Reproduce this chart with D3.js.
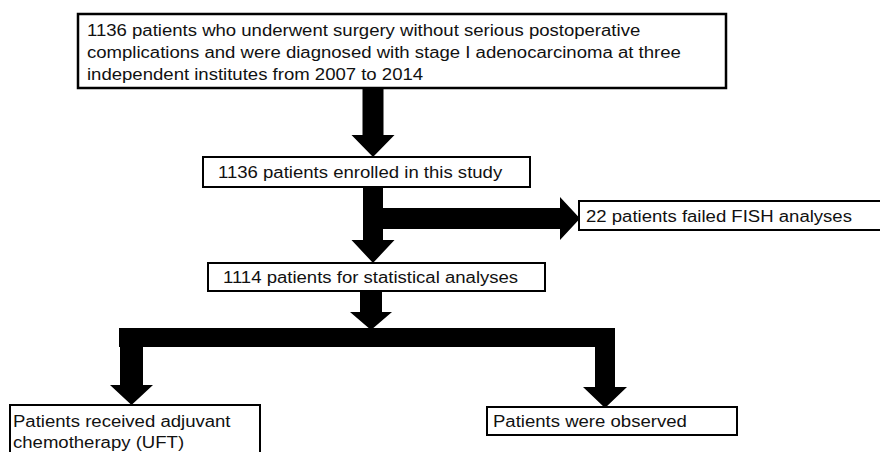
<!DOCTYPE html>
<html>
<head>
<meta charset="utf-8">
<script src="https://cdn.jsdelivr.net/npm/d3@7"></script>
<style>
  html, body { margin: 0; padding: 0; background: #fff; }
  svg { display: block; }
</style>
</head>
<body>
<script>
// flow chart content
const stepIds = ["source", "enrolled", "failed", "analysed", "adjuvant", "observed"];
const stepLines = [
  ["1136 patients who underwent surgery without serious postoperative",
   "complications and were diagnosed with stage I adenocarcinoma at three",
   "independent institutes from 2007 to 2014"],
  ["1136 patients enrolled in this study"],
  ["22 patients failed FISH analyses"],
  ["1114 patients for statistical analyses"],
  ["Patients received adjuvant", "chemotherapy (UFT)"],
  ["Patients were observed"]
];
const patientCounts = [1136, 1136, 22, 1114];
const links = [
  ["source", "enrolled"],
  ["enrolled", "analysed"],
  ["enrolled", "failed"],
  ["analysed", "adjuvant"],
  ["analysed", "observed"]
];

const width = 880, height = 452;

// box geometry (layout only)
const layout = {
  source:   {x: 78,  y: 14,  w: 648, h: 74, tx: 87,  ty: 36,  dy: 22},
  enrolled: {x: 203, y: 157, w: 327, h: 30, tx: 218, ty: 178, dy: 22},
  failed:   {x: 579, y: 201, w: 310, h: 29, tx: 586, ty: 222, dy: 22},
  analysed: {x: 208, y: 263, w: 337, h: 28, tx: 223, ty: 283, dy: 22},
  adjuvant: {x: 10,  y: 405, w: 250, h: 70, tx: 13,  ty: 427, dy: 21},
  observed: {x: 487, y: 407, w: 250, h: 28, tx: 493, ty: 427, dy: 22}
};

const fontSize = 16;
const stretch = 1.16;

const svg = d3.select("body").append("svg")
  .attr("width", width)
  .attr("height", height);

// arrows: shaft half width, head half width, head length
function downArrow(cx, y0, y1, sh, hh, hl) {
  return [[cx - sh, y0], [cx + sh, y0], [cx + sh, y1 - hl], [cx + hh, y1 - hl],
          [cx, y1], [cx - hh, y1 - hl], [cx - sh, y1 - hl]];
}
function rightArrow(cy, x0, x1, sh, hh, hl) {
  return [[x0, cy - sh], [x1 - hl, cy - sh], [x1 - hl, cy - hh], [x1, cy],
          [x1 - hl, cy + hh], [x1 - hl, cy + sh], [x0, cy + sh]];
}

const box = id => layout[id];
const shapes = [];
const line = d3.line();

links.forEach(([s, t]) => {
  const a = box(s), b = box(t);
  if (s === "source") {
    shapes.push(downArrow(373, a.y + a.h, b.y, 10.5, 21.5, 22));
  } else if (s === "enrolled" && t === "analysed") {
    shapes.push(downArrow(373, a.y + a.h, b.y, 10, 21.5, 23));
  } else if (t === "failed") {
    shapes.push(rightArrow(218.5, 383, b.x + 1, 10.5, 21.5, 20));
  }
});

// split branch: short arrow onto a thick bar, then two drop arrows
const an = box("analysed");
const barTop = 328, barBot = 347;
shapes.push(downArrow(371, an.y + an.h, barTop + 2, 11, 21, 18));
shapes.push([[119, barTop], [615, barTop], [615, barBot], [119, barBot]]);
shapes.push(downArrow(131.5, barBot - 1, box("adjuvant").y, 11.5, 21.5, 20));
shapes.push(downArrow(605, barBot - 1, box("observed").y + 1, 10, 22, 21));

svg.append("g")
  .selectAll("path")
  .data(shapes)
  .join("path")
  .attr("d", d => line(d) + "Z")
  .attr("fill", "#000");

// boxes
const nodes = svg.append("g")
  .selectAll("g")
  .data(stepIds.map((id, i) => ({id, lines: stepLines[i], count: patientCounts[i]})))
  .join("g");

nodes.append("rect")
  .attr("x", d => layout[d.id].x)
  .attr("y", d => layout[d.id].y)
  .attr("width", d => layout[d.id].w)
  .attr("height", d => layout[d.id].h)
  .attr("fill", "#fff")
  .attr("stroke", "#000")
  .attr("stroke-width", d => d.id === "source" ? 2.5 : 2);

nodes.each(function(d) {
  const g = d3.select(this);
  const L = layout[d.id];
  d.lines.forEach((txt, i) => {
    g.append("text")
      .attr("transform", `translate(${L.tx},${L.ty + i * L.dy}) scale(${stretch},1)`)
      .attr("font-family", "'Liberation Sans', Arial, Helvetica, sans-serif")
      .attr("font-size", fontSize)
      .attr("fill", "#111")
      .text(txt);
  });
});
</script>
</body>
</html>
